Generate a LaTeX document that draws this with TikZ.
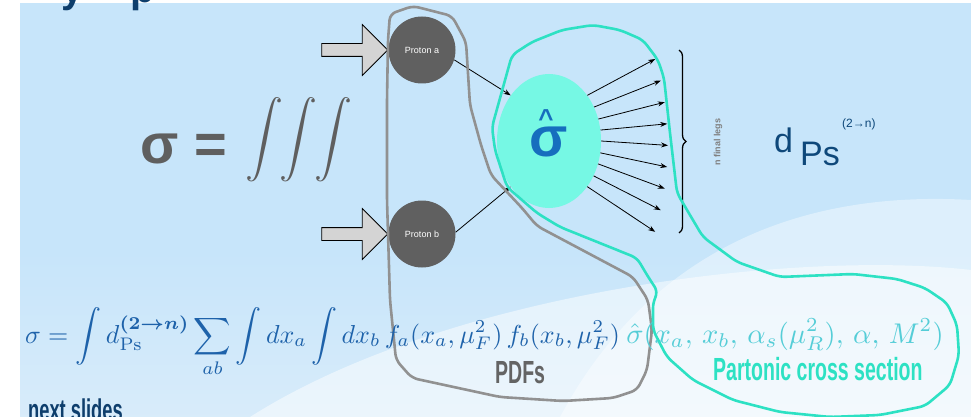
\documentclass[tikz,border=0pt]{standalone}
\usepackage{amsmath}
\usepackage{graphicx}
\usepackage{fontspec}
\newfontfamily\slidefont{Liberation Sans}
\newfontfamily\condfont[FakeStretch=0.61]{Liberation Sans}
\usetikzlibrary{arrows.meta,positioning,shapes.geometric,shapes.arrows,decorations.pathreplacing}

\definecolor{bgblue}{RGB}{199,229,250}
\definecolor{bgwhite}{RGB}{245,247,251}
\definecolor{inkgray}{RGB}{95,95,95}
\definecolor{protongray}{RGB}{96,96,96}
\definecolor{arrowgray}{RGB}{212,212,212}
\definecolor{partoncyan}{RGB}{118,248,228}
\definecolor{hatblue}{RGB}{22,110,190}
\definecolor{pdfgray}{RGB}{145,145,145}
\definecolor{linecyan}{RGB}{45,225,195}
\definecolor{psblue}{RGB}{14,72,122}
\definecolor{formblue}{RGB}{30,98,170}
\definecolor{formcyan}{RGB}{85,205,215}
\definecolor{labgray}{RGB}{100,100,100}
\definecolor{navy}{RGB}{14,62,108}

\pgfdeclareverticalshading{slidebg}{100bp}{color(0bp)=(bgwhite!40!bgblue); color(15bp)=(bgwhite!55!bgblue); color(45bp)=(bgblue); color(100bp)=(bgblue)}

\begin{document}
\begin{tikzpicture}[
  x=1pt, y=-1pt,
  >={Stealth[length=7pt,width=5pt]},
  proton/.style={circle, fill=protongray, minimum size=67pt, inner sep=0pt,
                 text=white, font=\slidefont\fontsize{9}{10}\selectfont},
  push/.style={single arrow, draw=black, fill=arrowgray, line width=0.8pt,
               minimum height=66pt, text height=6pt, text depth=6pt,
               single arrow head extend=19pt, inner sep=0pt},
  leg/.style={->, line width=0.8pt},
  region/.style={line width=2.6pt, rounded corners=6pt},
  cond/.style={font=\condfont\bfseries\fontsize{32}{34}\selectfont, inner sep=0pt},
  big/.style={font=\slidefont\bfseries\fontsize{56}{60}\selectfont, inner sep=0pt},
]
\useasboundingbox (0,0) rectangle (971,417);

% ---- slide background ---------------------------------------------------
\fill[white] (0,0) rectangle (971,417);
\shade[shading=slidebg] (20,4) rectangle (971,417);
\fill[white, opacity=0.4] (560,417) .. controls (650,250) and (800,190) .. (971,200) -- (971,417) -- cycle;
\fill[white, opacity=0.5] (250,417) .. controls (450,290) and (800,250) .. (971,270) -- (971,417) -- cycle;

% ---- cut-off title ------------------------------------------------------
\node[font=\slidefont\bfseries\fontsize{40}{40}\selectfont, text=navy, anchor=base west, inner sep=0pt] (titley) at (61,3) {y};
\node[font=\slidefont\bfseries\fontsize{40}{40}\selectfont, text=navy, anchor=base west, inner sep=0pt] (titlep) at (130,3) {p};

% ---- sigma = iiint ------------------------------------------------------
\node[big, text=inkgray, anchor=base west] (sigeq) at (140,163) {σ =};
\node[text=inkgray, inner sep=0pt] (iiint) at (299,140)
  {\scalebox{3.8}{$\displaystyle\int\mkern-4.5mu\int\mkern-4.5mu\int$}};

% ---- incoming protons ---------------------------------------------------
\node[proton] (pa) at (422,50) {Proton a};
\node[proton] (pb) at (422,234) {Proton b};
\node[push, anchor=tip] (pusha) at (pa.west) {};
\node[push, anchor=tip] (pushb) at (pb.west) {};

% ---- hard process -------------------------------------------------------
\node[ellipse, fill=partoncyan, minimum width=104pt, minimum height=134pt, inner sep=0pt] (parton) at (549,141) {};
\node[big, text=hatblue, anchor=base] (sighat) at (549,157) {σ};
\node[font=\slidefont\bfseries\fontsize{26}{26}\selectfont, text=hatblue, inner sep=0pt, anchor=base] (hat) at (546,128) {\textasciicircum};

\draw[leg] (pa.-17) -- (parton.130);
\draw[leg] (pb.3) -- (parton.230);

% fan of final legs
\foreach \i in {0,...,8}{
  \pgfmathsetmacro\ang{50-12.6*\i}
  \coordinate (leg\i) at ({668-0.8*(\i-4)*(\i-4)}, {59+21.6*\i});
  \draw[leg] (parton.\ang) -- (leg\i);
}

\coordinate (brtop) at (679,50);
\coordinate (brbot) at (679,233);
\draw[decorate, decoration={brace, amplitude=7pt}, line width=1.3pt] (brtop) -- (brbot);
\node[font=\slidefont\bfseries\fontsize{9}{10}\selectfont, text=gray, rotate=90] (nlegs) at (718,142) {n final legs};

% ---- phase space --------------------------------------------------------
\node[font=\slidefont\fontsize{34}{36}\selectfont, text=psblue, anchor=base west, inner sep=0pt] (dd) at (774,152) {d};
\node[font=\slidefont\fontsize{34}{36}\selectfont, text=psblue, anchor=base west, inner sep=0pt] (ps) at (800,165) {Ps};
\node[font=\slidefont\fontsize{12}{13}\selectfont, text=psblue, anchor=base west, inner sep=0pt] (twon) at (842,128) {(2→n)};

% ---- grouping outlines --------------------------------------------------
\draw[region, draw=pdfgray] (388,40) -- (390,14) -- (413,6) -- (452,16) -- (466,42) -- (470,105)
  -- (481,145) -- (491,175) -- (522,208) -- (537,226) -- (633,277) -- (648,300) -- (652,330)
  -- (647,370) -- (637,390) -- (613,398) -- (563,401) -- (500,397) -- (412,378) -- (396,360)
  -- (390,300) -- (387,200) -- (387,100) -- cycle;
\draw[region, draw=linecyan] (492,127) -- (512,55) -- (532,42) -- (562,30) -- (593,25) -- (620,30)
  -- (643,40) -- (658,60) -- (664,78) -- (670,133) -- (677,193) -- (687,210) -- (703,237)
  -- (737,262) -- (780,277) -- (853,274) -- (897,279) -- (925,288) -- (947,303) -- (957,325)
  -- (959,355) -- (950,385) -- (925,406) -- (880,415) -- (830,417) -- (780,412) -- (733,400)
  -- (693,380) -- (667,357) -- (653,330) -- (653,302) -- (658,292) -- (647,275) -- (637,258)
  -- (560,227) -- (537,213) -- (507,187) -- (495,150) -- cycle;

% ---- full formula -------------------------------------------------------
\node[anchor=base west, text=formblue, inner sep=0pt] (xsec) at (25,343)
  {\scalebox{2.6}{$\displaystyle \sigma = \int d^{\boldsymbol{(2\to n)}}_{\mathrm{Ps}}
   \sum_{ab} \int dx_a \int dx_b\, f_a(x_a,\mu_F^2)\, f_b(x_b,\mu_F^2)$}};
\node[base right=6pt of xsec, text=formcyan, inner sep=0pt] (xsechat)
  {\scalebox{2.85}{$\displaystyle \hat\sigma(x_a,\,x_b,\,\alpha_s(\mu_R^2),\,\alpha,\,M^2)$}};

\node[cond, text=labgray, anchor=base west] (pdfs) at (495,383) {PDFs};
\node[cond, text=linecyan, anchor=base west] (pcs) at (713,380) {Partonic cross section};
\node[cond, font=\condfont\bfseries\fontsize{30}{32}\selectfont, text=navy, anchor=base west] (next) at (28,420) {next slides};

\end{tikzpicture}
\end{document}
